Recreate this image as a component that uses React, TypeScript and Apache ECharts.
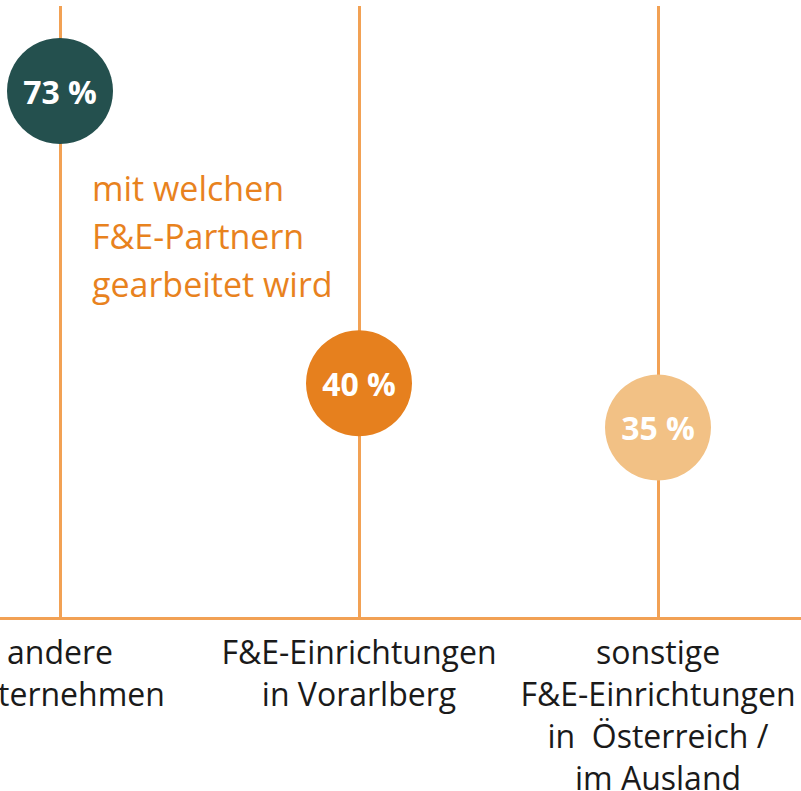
import React, { useEffect, useRef } from "react";
import * as echarts from "echarts";

const categories = [
  "andere\nUnternehmen",
  "F&E-Einrichtungen\nin Vorarlberg",
  "sonstige\nF&E-Einrichtungen\nin  Österreich /\nim Ausland",
];
const values = [73, 40, 35];
const circleColors = ["#24504e", "#e6801e", "#f2c185"];
const annotation = ["mit welchen", "F&E-Partnern", "gearbeitet wird"];

const LINE = "#f2a154";

export default function App() {
  const ref = useRef<HTMLDivElement>(null);
  useEffect(() => {
    if (!ref.current) return;
    const chart = echarts.init(ref.current, undefined, { renderer: "svg" });
    chart.setOption({
      animation: false,
      backgroundColor: "#ffffff",
      grid: {
        left: -89.5,
        right: -6.5,
        top: 6,
        bottom: 173,
        containLabel: false,
        outerBoundsMode: "none",
      },
      xAxis: {
        type: "category",
        data: categories,
        boundaryGap: true,
        axisLine: { show: true, lineStyle: { color: LINE, width: 3 } },
        axisTick: { show: false },
        splitLine: { show: false },
        axisLabel: {
          interval: 0,
          color: "#1a1a1a",
          fontFamily: "Open Sans",
          fontSize: 32,
          lineHeight: 42,
          margin: 12,
        },
      },
      yAxis: {
        type: "value",
        min: 13.5,
        max: 82.6,
        show: false,
        splitLine: { show: false },
      },
      series: [
        {
          type: "scatter",
          z: 3,
          symbol: "circle",
          symbolSize: 106,
          data: values.map((v, i) => ({ value: v, itemStyle: { color: circleColors[i], opacity: 1 } })),
          label: {
            show: true,
            position: "inside",
            color: "#ffffff",
            fontFamily: "Open Sans",
            fontWeight: "bold",
            fontSize: 32,
            formatter: (p: any) => `${p.value} %`,
          },
          markLine: {
            z: 1,
            silent: true,
            symbol: "none",
            label: { show: false },
            lineStyle: { color: LINE, width: 3, type: "solid" },
            data: categories.map((c) => ({ xAxis: c })),
          },
        },
      ],
      graphic: [
        {
          type: "text",
          left: 92,
          top: 164,
          style: {
            text: annotation.join("\n"),
            fill: "#e8821e",
            font: "34px 'Open Sans'",
            lineHeight: 48,
          },
        },
      ],
    });
    return () => chart.dispose();
  }, []);
  return (
    <div
      ref={ref}
      style={{ position: "absolute", left: 0, top: 0, width: 801, height: 791 }}
    />
  );
}
